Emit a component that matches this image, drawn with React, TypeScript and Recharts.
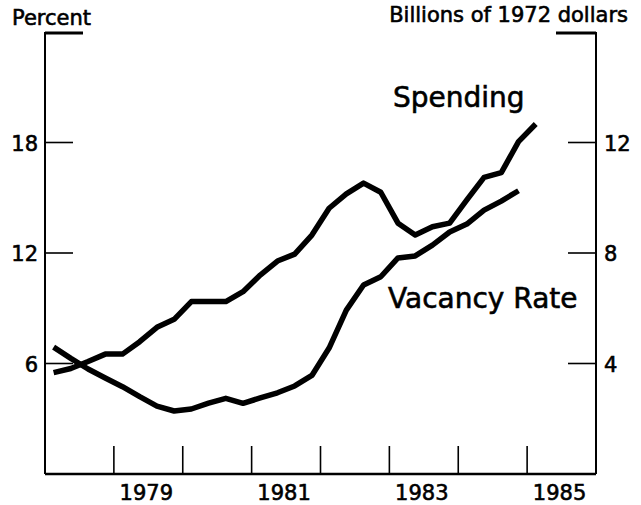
import { LineChart, Line, XAxis, YAxis } from "recharts";

// quarter midpoints, 1978Q1 .. 1985Q1
const quarters = [
  1978.125, 1978.375, 1978.625, 1978.875,
  1979.125, 1979.375, 1979.625, 1979.875,
  1980.125, 1980.375, 1980.625, 1980.875,
  1981.125, 1981.375, 1981.625, 1981.875,
  1982.125, 1982.375, 1982.625, 1982.875,
  1983.125, 1983.375, 1983.625, 1983.875,
  1984.125, 1984.375, 1984.625, 1984.875,
  1985.125,
];

// billions of 1972 dollars (right axis)
const spending = [
  3.67, 3.82, 4.07, 4.34, 4.34, 4.79, 5.31, 5.6, 6.24, 6.24, 6.24, 6.6, 7.2,
  7.71, 7.96, 8.65, 9.62, 10.14, 10.53, 10.2, 9.08, 8.65, 8.95, 9.08, 9.92,
  10.74, 10.91, 12.03, 12.67,
];

// percent (left axis)
const vacancy = [
  6.89, 6.28, 5.7, 5.21, 4.74, 4.2, 3.69, 3.42, 3.53, 3.85, 4.11, 3.84, 4.13,
  4.41, 4.78, 5.35, 6.84, 8.9, 10.26, 10.71, 11.73, 11.84, 12.43, 13.14,
  13.57, 14.33, 14.82, 15.38,
];

const yearBoundaries = [1979, 1980, 1981, 1982, 1983, 1984, 1985];
const yearLabels = ["1979", "1981", "1983", "1985"];
const leftTicks = [6, 12, 18, 24];
const rightTicks = [4, 8, 12, 16];

const rows = quarters.map((t, i) => ({
  t,
  spending: spending[i],
  vacancy: vacancy[i],
}));

const labelTicks = yearLabels.map((y) => Number(y) + 0.5);
const xTicks = [...yearBoundaries, ...labelTicks].sort((a, b) => a - b);

const FONT = "DejaVu Sans";
// scanned type is heavier than DejaVu regular, thicken it a bit
const heavy = { stroke: "#000", strokeWidth: 0.6 };

function XTick(props: any) {
  const { x, y, payload } = props;
  const v = payload.value as number;
  if (Number.isInteger(v)) {
    return <line x1={x} x2={x} y1={y} y2={y - 28} stroke="#000" strokeWidth={1.6} />;
  }
  return (
    <text x={x - 2} y={y + 26} textAnchor="middle" fontSize={21} fontFamily={FONT} fill="#000" {...heavy}>
      {String(Math.floor(v))}
    </text>
  );
}

function LeftTick(props: any) {
  const { x, y, payload } = props;
  if (payload.value === 24) {
    return <line x1={x} x2={x + 38} y1={y + 1} y2={y + 1} stroke="#000" strokeWidth={3} />;
  }
  return (
    <g>
      <line x1={x} x2={x + 28} y1={y} y2={y} stroke="#000" strokeWidth={1.6} />
      <text x={x - 7} y={y + 8} textAnchor="end" fontSize={21} fontFamily={FONT} fill="#000" {...heavy}>
        {payload.value}
      </text>
    </g>
  );
}

function RightTick(props: any) {
  const { x, y, payload } = props;
  if (payload.value === 16) {
    return <line x1={x} x2={x - 40} y1={y + 1} y2={y + 1} stroke="#000" strokeWidth={3} />;
  }
  return (
    <g>
      <line x1={x} x2={x - 28} y1={y} y2={y} stroke="#000" strokeWidth={1.6} />
      <text x={x + 8} y={y + 8} textAnchor="start" fontSize={21} fontFamily={FONT} fill="#000" {...heavy}>
        {payload.value}
      </text>
    </g>
  );
}

export default function App() {
  return (
    <div style={{ position: "absolute", left: 0, top: 0, width: 641, height: 505, background: "#fff" }}>
      <LineChart
        width={641}
        height={505}
        data={rows}
        margin={{ top: 32, right: 44, bottom: 30, left: 44 }}
      >
        <XAxis
          type="number"
          dataKey="t"
          domain={[1978, 1986]}
          ticks={xTicks}
          interval={0}
          height={1}
          tickSize={0}
          tickMargin={0}
          tickLine={false}
          axisLine={{ stroke: "#000", strokeWidth: 2.5 }}
          tick={XTick}
        />
        <YAxis
          yAxisId="left"
          orientation="left"
          width={1}
          domain={[0, 24]}
          ticks={leftTicks}
          interval={0}
          tickSize={0}
          tickMargin={0}
          tickLine={false}
          axisLine={{ stroke: "#000", strokeWidth: 2 }}
          tick={LeftTick}
        />
        <YAxis
          yAxisId="right"
          orientation="right"
          width={1}
          domain={[0, 16]}
          ticks={rightTicks}
          interval={0}
          tickSize={0}
          tickMargin={0}
          tickLine={false}
          axisLine={{ stroke: "#000", strokeWidth: 2 }}
          tick={RightTick}
        />
        <Line
          yAxisId="left"
          type="linear"
          dataKey="vacancy"
          stroke="#000"
          strokeWidth={5.5}
          strokeLinejoin="round"
          dot={false}
          isAnimationActive={false}
        />
        <Line
          yAxisId="right"
          type="linear"
          dataKey="spending"
          stroke="#000"
          strokeWidth={5.5}
          strokeLinejoin="round"
          dot={false}
          isAnimationActive={false}
        />
      </LineChart>
      <svg
        width={641}
        height={505}
        style={{ position: "absolute", left: 0, top: 0, pointerEvents: "none" }}
        fontFamily={FONT}
        fill="#000"
        {...heavy}
      >
        <text x={12} y={25} fontSize={21}>Percent</text>
        <text x={628} y={22} fontSize={21} textAnchor="end">Billions of 1972 dollars</text>
        <text x={393} y={107} fontSize={28}>Spending</text>
        <text x={388} y={308} fontSize={28}>Vacancy Rate</text>
      </svg>
    </div>
  );
}
